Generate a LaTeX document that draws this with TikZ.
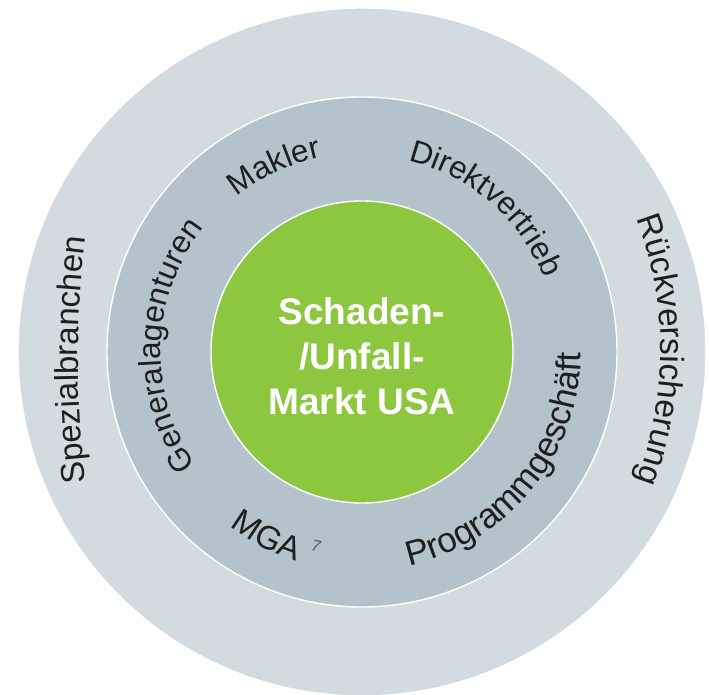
\documentclass[tikz,border=0pt]{standalone}
\usepackage{fontspec}
\setmainfont{Liberation Sans}
\usetikzlibrary{decorations.text}

\definecolor{ringouter}{HTML}{D2DBE0}
\definecolor{ringmid}{HTML}{B3C2CB}
\definecolor{core}{HTML}{8DC63F}
\definecolor{labelink}{HTML}{1E1E1E}
\definecolor{noteink}{HTML}{5A5A5A}
\newcommand\ringfont[1]{\fontsize{#1}{#1}\selectfont}

\begin{document}
\begin{tikzpicture}[x=1pt, y=1pt,
  disc/.style={circle, draw=white, line width=1.4pt, inner sep=0pt, outer sep=0pt},
  arclabel/.style={decorate, decoration={text along path, text align=center,
      text color=labelink, text={#1}}}]
\useasboundingbox (-362,-343) rectangle (347,352);

% three concentric discs
\node[disc, fill=ringouter, minimum size=688pt] (outer) at (0,0) {};
\node[disc, fill=ringmid, minimum size=510pt] (middle) at (0,0) {};
\node[disc, fill=core, minimum size=302pt] (core) at (0,0) {};

% centre caption
\node[font=\bfseries\fontsize{37}{45}\selectfont, text=white, align=center,
      inner sep=0pt] (market) at (0,-4.5) {Schaden-\\/Unfall-\\Markt USA};

% inner ring: sales channels
\path[arclabel={|\ringfont{31.5}|Makler}]
  (0,0) ++(160.3:199) arc[start angle=160.3, end angle=70.3, radius=199];
\path[arclabel={|\ringfont{31.5}|Direktvertrieb}]
  (0,0) ++(99.2:197) arc[start angle=99.2, end angle=-0.8, radius=197];
\path[arclabel={|\ringfont{31.5}|Generalagenturen}]
  (0,0) ++(238:201) arc[start angle=238, end angle=118, radius=201];
\path[arclabel={|\ringfont{33}|MGA}]
  (0,0) ++(212.7:219) arc[start angle=212.7, end angle=272.7, radius=219];
\path[arclabel={|\ringfont{35}|Programmgeschäft}]
  (0,0) ++(-98.9:219) arc[start angle=-98.9, end angle=21.1, radius=219];
\node[font=\itshape\ringfont{16}, text=noteink, rotate=-12, inner sep=0pt] (note) at (-46,-194) {7};

% outer ring: adjacent segments
\path[arclabel={|\ringfont{33}|Spezialbranchen}]
  (716,-8) ++(190:1000) arc[start angle=190, end angle=170, radius=1000];
\path[arclabel={|\ringfont{33.5}|Rückversicherung}]
  (-65,2) ++(30:364) arc[start angle=30, end angle=-30, radius=364];
\end{tikzpicture}
\end{document}
